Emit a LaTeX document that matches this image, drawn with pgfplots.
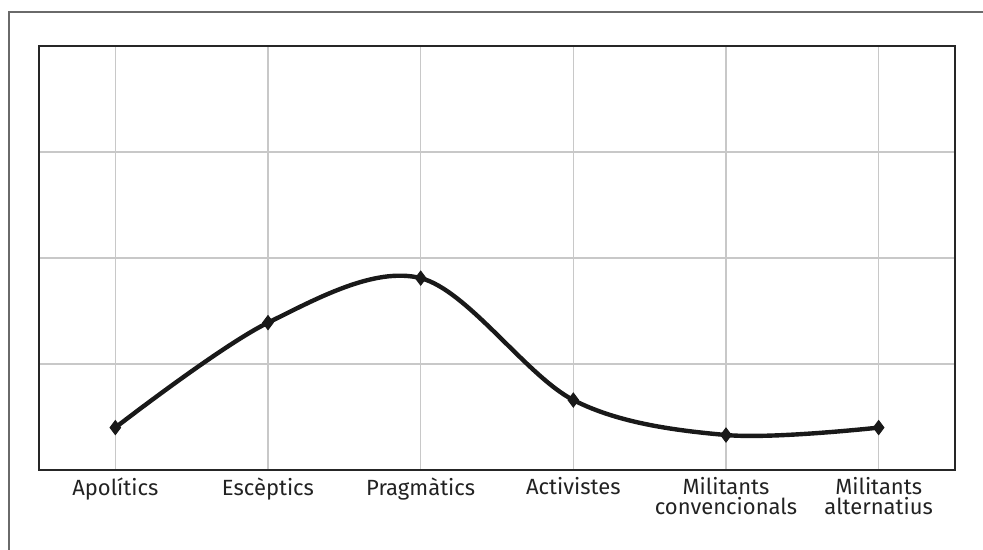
\documentclass[border=0pt]{standalone}
\usepackage{pgfplots}
\pgfplotsset{compat=1.18}
\usepackage{fontspec}
\setmainfont{Fira Sans}
\definecolor{gridc}{HTML}{C8C8C8}
\definecolor{framec}{HTML}{6A6A6A}
\definecolor{txt}{HTML}{222222}
\begin{document}
\begin{tikzpicture}
\useasboundingbox (0,0) rectangle (491.5pt,275pt);
\draw[framec, line width=1pt] (4.5pt,-5pt) -- (4.5pt,269pt) -- (500pt,269pt);
\begin{axis}[
  at={(19.5pt,40pt)}, anchor=south west,
  scale only axis, width=458pt, height=212pt,
  xmin=-0.5, xmax=5.5, ymin=0, ymax=4,
  xtick={0,1,2,3,4,5},
  xticklabels={Apolítics,Escèptics,Pragmàtics,Activistes,{Militants\\convencionals},{Militants\\alternatius}},
  xticklabel style={align=center, font=\fontsize{11}{10}\selectfont, text=txt, inner sep=1pt, yshift=-2.5pt},
  ytick={1,2,3}, yticklabels={},
  major tick length=0pt,
  grid=major, grid style={gridc, line width=0.7pt},
  axis line style={draw=black!85, line width=0.8pt},
  clip=false,
]
\addplot[black!90, line width=2.2pt, smooth, tension=0.55, mark=diamond*, mark size=3.5pt, mark options={fill=black!90, line width=0.5pt}]
  coordinates {(0,0.40) (1,1.39) (2,1.81) (3,0.66) (4,0.33) (5,0.40)};
\end{axis}
\end{tikzpicture}
\end{document}
